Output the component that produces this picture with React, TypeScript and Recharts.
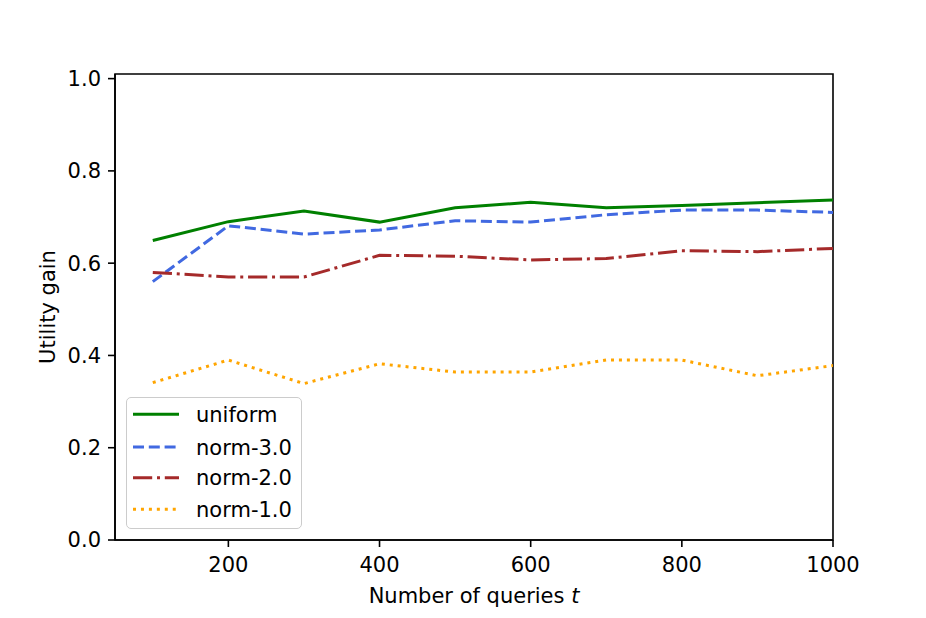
import { Label, Legend, Line, LineChart, ReferenceArea, XAxis, YAxis } from "recharts";

const queries = [100, 200, 300, 400, 500, 600, 700, 800, 900, 1000];
const uniform = [0.649, 0.69, 0.713, 0.689, 0.72, 0.732, 0.72, 0.725, 0.731, 0.737];
const norm3 = [0.56, 0.681, 0.663, 0.672, 0.692, 0.689, 0.705, 0.715, 0.715, 0.71];
const norm2 = [0.58, 0.57, 0.57, 0.617, 0.615, 0.607, 0.61, 0.627, 0.625, 0.632];
const norm1 = [0.341, 0.39, 0.339, 0.382, 0.364, 0.364, 0.39, 0.39, 0.356, 0.378];

const xTicks = [200, 400, 600, 800, 1000];
const yTicks = [0, 0.2, 0.4, 0.6, 0.8, 1.0];

const series = [
  { key: "uniform", label: "uniform", color: "#008000", dash: undefined },
  { key: "norm3", label: "norm-3.0", color: "#4169E1", dash: "11 4.8" },
  { key: "norm2", label: "norm-2.0", color: "#A52A2A", dash: "19.2 4.8 3 4.8" },
  { key: "norm1", label: "norm-1.0", color: "#FFA500", dash: "3 4.95" },
];

const data = queries.map((q, i) => ({
  t: q,
  uniform: uniform[i],
  norm3: norm3[i],
  norm2: norm2[i],
  norm1: norm1[i],
}));

const font = "'DejaVu Sans', sans-serif";
const fs = 21;
const tickStyle = { fontSize: fs, fill: "#000", fontFamily: font };
const axisLine = { stroke: "#000", strokeWidth: 1.6 };

function LegendBox() {
  const rows = [17.3, 50, 80.7, 112.3];
  return (
    <div
      style={{
        width: 176,
        height: 132,
        boxSizing: "border-box",
        border: "1.5px solid #cccccc",
        borderRadius: 5,
        background: "rgba(255,255,255,0.8)",
      }}
    >
      <svg width={174} height={130} style={{ display: "block", marginLeft: -1, marginTop: -1 }}>
        {series.map((s, i) => (
          <g key={s.key}>
            <line x1={7} x2={53} y1={rows[i]} y2={rows[i]} stroke={s.color} strokeWidth={3} strokeDasharray={s.dash} />
            <text x={70} y={rows[i] + 7.5} fontSize={fs} fontFamily={font} fill="#000">
              {s.label}
            </text>
          </g>
        ))}
      </svg>
    </div>
  );
}

export default function App() {
  return (
    <div style={{ position: "absolute", left: 0, top: 0, width: 926, height: 618, background: "#fff" }}>
      <LineChart width={926} height={618} data={data} margin={{ top: 74, right: 93, bottom: 0, left: 0 }}>
        <XAxis
          dataKey="t"
          type="number"
          domain={[50, 1000]}
          ticks={xTicks}
          allowDataOverflow
          height={78}
          tick={tickStyle}
          tickSize={7}
          tickMargin={10}
          tickLine={axisLine}
          axisLine={axisLine}
        >
          <Label
            content={() => (
              <text x={474} y={603} textAnchor="middle" fontSize={fs} fontFamily={font} fill="#000">
                Number of queries <tspan fontStyle="italic">t</tspan>
              </text>
            )}
          />
        </XAxis>
        <YAxis
          type="number"
          domain={[0, 1.01]}
          ticks={yTicks}
          allowDataOverflow
          width={115}
          tick={tickStyle}
          tickSize={7}
          tickMargin={7}
          tickLine={axisLine}
          axisLine={axisLine}
          tickFormatter={(v: number) => v.toFixed(1)}
        >
          <Label
            content={() => (
              <text
                x={48}
                y={307}
                transform="rotate(-90 48 307)"
                textAnchor="middle"
                dominantBaseline="central"
                fontSize={fs}
                fontFamily={font}
                fill="#000"
              >
                Utility gain
              </text>
            )}
          />
        </YAxis>
        <ReferenceArea x1={50} x2={1000} y1={0} y2={1.01} fill="none" stroke="#000" strokeWidth={1.6} />
        <Legend
          layout="vertical"
          verticalAlign="middle"
          align="center"
          wrapperStyle={{ position: "absolute", left: 126, top: 397, width: "auto" }}
          content={() => <LegendBox />}
        />
        {series.map((s) => (
          <Line
            key={s.key}
            type="linear"
            dataKey={s.key}
            name={s.label}
            stroke={s.color}
            strokeWidth={3}
            strokeDasharray={s.dash}
            strokeLinecap="butt"
            dot={false}
            activeDot={false}
            isAnimationActive={false}
          />
        ))}
      </LineChart>
    </div>
  );
}
